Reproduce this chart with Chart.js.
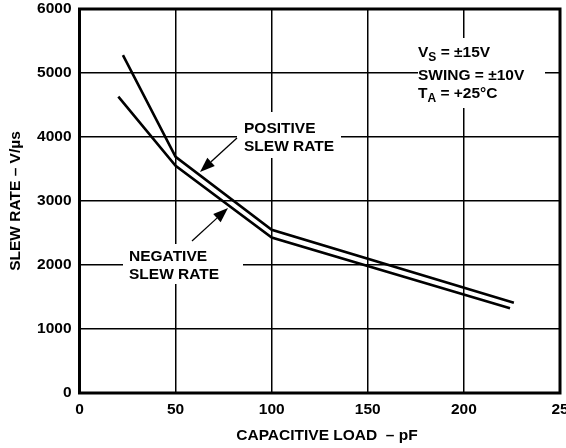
<!DOCTYPE html>
<html>
<head>
<meta charset="utf-8">
<script src="https://cdn.jsdelivr.net/npm/chart.js@4"></script>
<style>
  body { margin: 0; background: #fff; }
  canvas { display: block; }
</style>
</head>
<body>
<canvas id="myChart" width="566" height="448"></canvas>
<script>
// capacitive load (pF) and slew rate (V/us)
const posLoad = [22.6, 50, 100, 226];
const posSlew = [5280, 3690, 2550, 1410];
const negLoad = [20.2, 50, 100, 224];
const negSlew = [4630, 3550, 2430, 1325];

const FONT = '"Liberation Sans", Arial, sans-serif';
const FS = 15.5;

function pts(xs, ys) {
    return xs.map((x, i) => ({ x: x, y: ys[i] }));
}

function arrow(ctx, x1, y1, x2, y2) {
    const a = Math.atan2(y2 - y1, x2 - x1);
    const len = 15, hw = 5.5;
    ctx.beginPath();
    ctx.moveTo(x1, y1);
    ctx.lineTo(x2 - len * Math.cos(a), y2 - len * Math.sin(a));
    ctx.lineWidth = 1.3;
    ctx.stroke();
    ctx.beginPath();
    ctx.moveTo(x2, y2);
    ctx.lineTo(x2 - len * Math.cos(a) + hw * Math.sin(a), y2 - len * Math.sin(a) - hw * Math.cos(a));
    ctx.lineTo(x2 - len * Math.cos(a) - hw * Math.sin(a), y2 - len * Math.sin(a) + hw * Math.cos(a));
    ctx.closePath();
    ctx.fill();
}

// white boxes behind the labels, then labels, arrows and frame
const notes = {
    id: 'notes',
    beforeDatasetsDraw(chart) {
        const ctx = chart.ctx;
        ctx.save();
        ctx.fillStyle = '#fff';
        ctx.fillRect(237, 112, 104, 46);
        ctx.fillRect(123, 244, 120, 40);
        ctx.fillRect(418, 38, 127, 70);
        ctx.restore();
    },
    afterDraw(chart) {
        const ctx = chart.ctx;
        const a = chart.chartArea;
        const big = 'bold ' + FS + 'px ' + FONT;
        const small = 'bold 12px ' + FONT;
        ctx.save();
        ctx.fillStyle = '#000';
        ctx.strokeStyle = '#000';
        ctx.font = big;
        ctx.textBaseline = 'alphabetic';
        ctx.textAlign = 'left';

        ctx.fillText('POSITIVE', 244, 133);
        ctx.fillText('SLEW RATE', 244, 151);
        ctx.fillText('NEGATIVE', 129, 261);
        ctx.fillText('SLEW RATE', 129, 279);

        // conditions
        let x = 418;
        ctx.fillText('V', x, 57);
        x += ctx.measureText('V').width;
        ctx.font = small;
        ctx.fillText('S', x, 61);
        x += ctx.measureText('S').width;
        ctx.font = big;
        ctx.fillText(' = \u00b115V', x, 57);
        ctx.fillText('SWING = \u00b110V', 418, 80);
        x = 418;
        ctx.fillText('T', x, 98);
        x += ctx.measureText('T').width;
        ctx.font = small;
        ctx.fillText('A', x, 102);
        x += ctx.measureText('A').width;
        ctx.font = big;
        ctx.fillText(' = +25\u00b0C', x, 98);

        arrow(ctx, 237, 138, 200, 172);
        arrow(ctx, 192, 241, 228, 208);

        // axis titles
        ctx.textAlign = 'center';
        ctx.fillText('CAPACITIVE LOAD  \u2013 pF', 327, 440);
        ctx.save();
        ctx.translate(20, (a.top + a.bottom) / 2);
        ctx.rotate(-Math.PI / 2);
        ctx.fillText('SLEW RATE \u2013 V/\u00b5s', 0, 0);
        ctx.restore();

        // frame
        ctx.lineWidth = 3;
        ctx.strokeRect(a.left, a.top, a.right - a.left, a.bottom - a.top);
        ctx.restore();
    }
};

const ctx1 = document.getElementById('myChart').getContext('2d');
new Chart(ctx1, {
    type: 'scatter',
    data: {
        datasets: [{
            label: 'Positive slew rate',
            data: pts(posLoad, posSlew),
            showLine: true,
            borderColor: '#000',
            borderWidth: 2.6,
            pointRadius: 0,
            tension: 0
        },
        {
            label: 'Negative slew rate',
            data: pts(negLoad, negSlew),
            showLine: true,
            borderColor: '#000',
            borderWidth: 2.6,
            pointRadius: 0,
            tension: 0
        }]
    },
    options: {
        responsive: false,
        animation: false,
        layout: { padding: 0 },
        plugins: {
            legend: { display: false },
            tooltip: { enabled: false }
        },
        scales: {
            x: {
                type: 'linear',
                min: 0,
                max: 250,
                afterFit: s => {
                    s.height = 55;
                    s.paddingLeft = 0;
                    s.paddingRight = 6;
                },
                ticks: {
                    stepSize: 50,
                    padding: 7,
                    color: '#000',
                    font: { family: FONT, size: FS, weight: 'bold' },
                    callback: v => (v === 250 ? '25' : String(v))
                },
                grid: { color: '#000', lineWidth: 1.5, drawTicks: false },
                border: { display: false }
            },
            y: {
                min: 0,
                max: 6000,
                afterFit: s => {
                    s.width = 79.5;
                    s.paddingTop = 9;
                    s.paddingBottom = 0;
                },
                ticks: {
                    stepSize: 1000,
                    padding: 8,
                    color: '#000',
                    font: { family: FONT, size: FS, weight: 'bold' },
                    callback: v => String(v)
                },
                grid: { color: '#000', lineWidth: 1.5, drawTicks: false },
                border: { display: false }
            }
        }
    },
    plugins: [notes]
});
</script>
</body>
</html>
